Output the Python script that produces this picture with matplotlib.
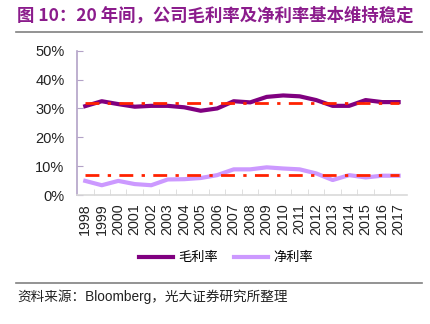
import matplotlib
matplotlib.use("Agg")
from matplotlib import pyplot as plt
from matplotlib.lines import Line2D

plt.rcParams['font.family'] = ['Liberation Sans', 'Noto Sans CJK SC', 'DejaVu Sans']

years = [str(y) for y in range(1998, 2018)]
gross_margin = [30.8, 32.5, 31.5, 30.6, 30.9, 30.9, 30.4, 29.2, 30.0, 32.5,
                32.1, 34.0, 34.5, 34.2, 32.9, 30.9, 30.9, 32.9, 32.2, 32.2]
net_margin = [4.9, 3.4, 4.9, 3.8, 3.4, 5.4, 5.5, 5.9, 6.9, 8.9,
              8.9, 9.6, 9.2, 8.9, 7.5, 5.2, 6.9, 6.1, 6.7, 6.7]
gross_avg = 32.0
net_avg = 7.0

title = '图 10：20 年间，公司毛利率及净利率基本维持稳定'
source = '资料来源：Bloomberg，光大证券研究所整理'

gross_color = '#800080'
net_color = '#CC99FF'
avg_color = '#FF2200'
cjk = ['Noto Sans CJK SC', 'DejaVu Sans']

fig = plt.figure(figsize=(4.31, 3.24), dpi=100)
ax = fig.add_axes([0.1787, 0.398, 0.7653, 0.4455])

x = list(range(len(years)))
ax.plot(x, gross_margin, color=gross_color, lw=3, solid_joinstyle='round', zorder=3)
ax.plot(x, net_margin, color=net_color, lw=3, solid_joinstyle='round', zorder=3)
ax.plot([x[0], x[-1]], [gross_avg, gross_avg], color=avg_color, lw=2,
        dashes=(5, 3, 1.2, 3), zorder=4)
ax.plot([x[0], x[-1]], [net_avg, net_avg], color=avg_color, lw=2,
        dashes=(5, 3, 1.2, 3), zorder=4)

ax.set_xlim(-0.5, len(years) - 0.5)
ax.set_ylim(0, 50)
ax.set_yticks(range(0, 51, 10))
ax.set_yticklabels([f'{v}%' for v in range(0, 51, 10)], fontsize=10.5, color='#222222')
ax.set_xticks(x)
ax.set_xticklabels(years, rotation=90, fontsize=10.3, color='#222222')
ax.set_xticks([i + 0.5 for i in x[:-1]], minor=True)
ax.tick_params(axis='x', which='major', length=0, pad=6)
ax.tick_params(axis='x', which='minor', length=4, direction='in', color='#D9D9D9')
ax.tick_params(axis='y', length=4, direction='in', color='#B3A2C7', pad=9)

for side in ['top', 'right']:
    ax.spines[side].set_visible(False)
ax.spines['left'].set_color('#B3A2C7')
ax.spines['bottom'].set_color('#D9D9D9')
ax.spines['left'].set_linewidth(1.2)
ax.spines['bottom'].set_linewidth(1.2)

handles = [Line2D([], [], color=gross_color, lw=3),
           Line2D([], [], color=net_color, lw=3)]
fig.legend(handles, ['毛利率', '净利率'], loc='center', bbox_to_anchor=(0.525, 0.204),
           ncol=2, frameon=False, handlelength=2.6, handletextpad=0.4,
           columnspacing=1.2, prop={'family': cjk, 'size': 9.5})

fig.text(17 / 431, 1 - 16 / 324, title, fontsize=12.5, fontweight='bold',
         color='#8B1C8C', family=cjk, va='center', ha='left')
fig.add_artist(Line2D([16 / 431, 422 / 431], [1 - 32 / 324, 1 - 32 / 324],
                      color='#808080', lw=1.2))
fig.add_artist(Line2D([16 / 431, 422 / 431], [1 - 283 / 324, 1 - 283 / 324],
                      color='#808080', lw=1.2))
fig.text(17 / 431, 1 - 297 / 324, source, fontsize=9.8, color='#222222',
         family=['Liberation Sans', 'Noto Sans CJK SC'], va='center', ha='left')

fig.savefig('out.png', dpi=100)
